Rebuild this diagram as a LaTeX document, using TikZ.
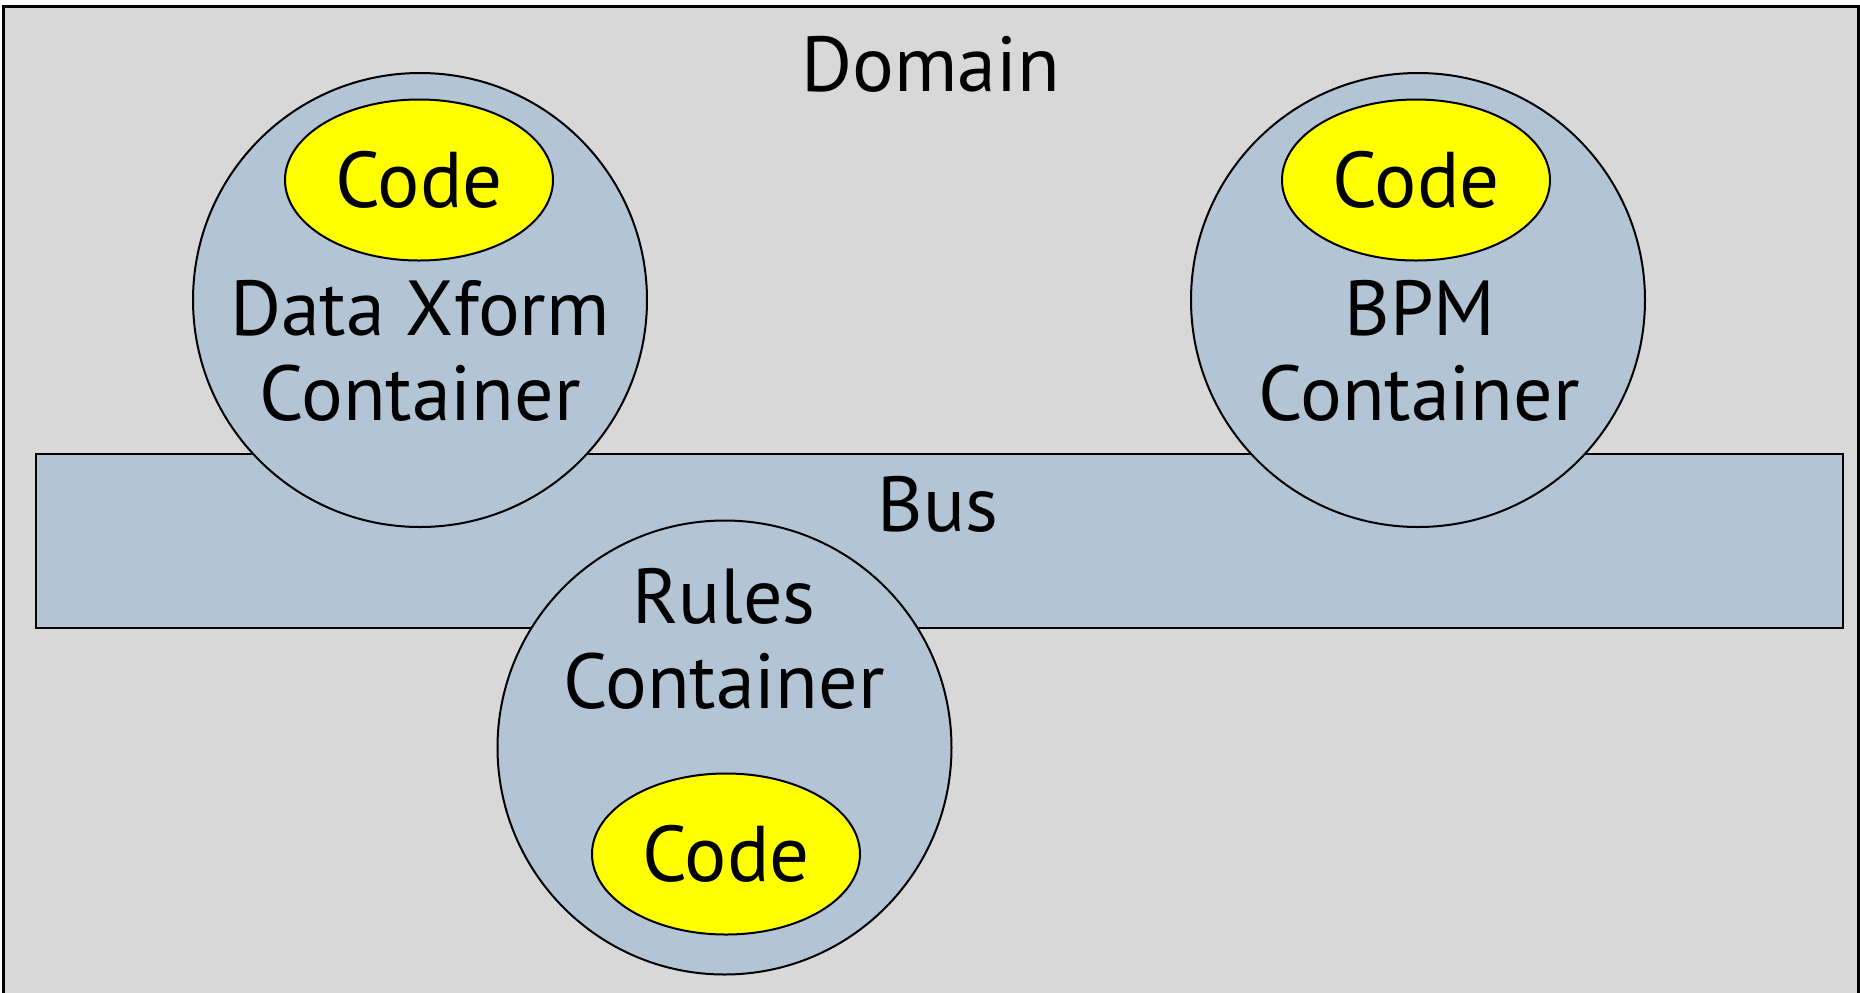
\documentclass[tikz,border=0pt]{standalone}
\usepackage{fontspec}
\setmainfont{PT Sans}
\usetikzlibrary{shapes.geometric}
\definecolor{domaingray}{RGB}{216,216,216}
\definecolor{busblue}{RGB}{179,196,212}
\definecolor{codeyellow}{RGB}{255,255,0}
\tikzset{
  frame/.style={draw=black, line width=1.5pt, fill=domaingray},
  busbox/.style={draw=black, line width=1pt, fill=busblue},
  container/.style={circle, draw=black, line width=1pt, fill=busblue,
    minimum size=227pt, inner sep=0pt},
  codeblob/.style={ellipse, draw=black, line width=1pt, fill=codeyellow,
    minimum width=134pt, minimum height=80.5pt, inner sep=0pt},
  bigtext/.style={anchor=base, inner sep=0pt, font=\fontsize{39}{47}\selectfont},
  codetext/.style={anchor=base, inner sep=0pt, font=\fontsize{39.5}{47}\selectfont},
}
\begin{document}
\begin{tikzpicture}[x=0.5pt, y=-0.5pt]
  \clip (0,0) rectangle (1860,992);
  \fill[white] (0,0) rectangle (1860,992);

  % domain frame (runs past the lower edge)
  \draw[frame] (3,6) rectangle (1858,1010);
  \node[bigtext] (domain) at (931,91) {Domain};

  % message bus
  \draw[busbox] (36,454) rectangle (1843,628);
  \node[bigtext] (bus) at (938,531) {Bus};

  % data transformation container
  \node[container] (dx) at (420,300) {};
  \node[codeblob] (dxcode) at (419,180) {};
  \node[codetext] (dxcodet) at (419,207) {Code};
  \node[bigtext] (dxl1) at (420,335) {Data Xform};
  \node[bigtext] (dxl2) at (420,420) {Container};

  % BPM container
  \node[container] (bpm) at (1418,300) {};
  \node[codeblob] (bpmcode) at (1416,180) {};
  \node[codetext] (bpmcodet) at (1416,207) {Code};
  \node[bigtext] (bpml1) at (1420,335) {BPM};
  \node[bigtext] (bpml2) at (1419,420) {Container};

  % rules container
  \node[container] (rules) at (724.5,747.5) {};
  \node[codeblob] (rulescode) at (726,854) {};
  \node[codetext] (rulescodet) at (726,881) {Code};
  \node[bigtext] (rulesl1) at (724,623) {Rules};
  \node[bigtext] (rulesl2) at (724,708) {Container};
\end{tikzpicture}
\end{document}
